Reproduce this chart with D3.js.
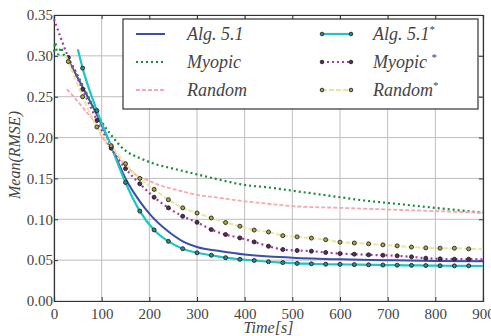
<!DOCTYPE html>
<html>
<head>
<meta charset="utf-8">
<script src="https://cdn.jsdelivr.net/npm/d3@7"></script>
<style>
  body { margin: 0; background: #fff; }
  svg text { fill: #444; }
</style>
</head>
<body>
<div id="chart"></div>
<script>
// values
var xTicks = [0, 100, 200, 300, 400, 500, 600, 700, 800, 900];
var yTicks = [0, 0.05, 0.10, 0.15, 0.20, 0.25, 0.30, 0.35];

var algT = [30, 60, 90, 120, 150, 180, 200, 240, 270, 300, 350, 400, 500, 600, 700, 800, 900];
var algV = [0.295, 0.262, 0.228, 0.190, 0.150, 0.122, 0.107, 0.085, 0.073, 0.066, 0.061, 0.057, 0.053, 0.051, 0.050, 0.049, 0.0485];

var myoT = [0, 3, 6, 10, 14, 20, 30, 60, 90, 120, 150, 180, 210, 250, 300, 350, 400, 450, 500, 550, 600, 650, 700, 750, 800, 850, 900];
var myoV = [0.305, 0.316, 0.305, 0.302, 0.310, 0.302, 0.296, 0.264, 0.229, 0.203, 0.184, 0.175, 0.168, 0.162, 0.155, 0.148, 0.142, 0.139, 0.135, 0.131, 0.127, 0.123, 0.120, 0.117, 0.114, 0.111, 0.108];

var rndT = [27, 40, 60, 90, 100, 125, 150, 170, 200, 220, 250, 270, 300, 350, 400, 450, 500, 600, 700, 800, 900];
var rndV = [0.259, 0.251, 0.237, 0.214, 0.202, 0.184, 0.166, 0.155, 0.147, 0.142, 0.137, 0.134, 0.130, 0.126, 0.122, 0.119, 0.116, 0.114, 0.112, 0.110, 0.108];

// starred runs, markers every 30 s
var algStarT = [50, 60, 90, 120, 150, 180, 210, 240, 270, 300, 330, 360, 390, 420, 450, 480, 510, 540, 570, 600, 630, 660, 690, 720, 750, 780, 810, 840, 870, 900];
var algStarV = [0.308, 0.285, 0.233, 0.189, 0.145, 0.110, 0.087, 0.073, 0.064, 0.059, 0.056, 0.053, 0.051, 0.0496, 0.048, 0.047, 0.046, 0.0455, 0.045, 0.0448, 0.0445, 0.0443, 0.044, 0.0438, 0.0436, 0.0434, 0.0432, 0.043, 0.043, 0.0428];

var myoStarT = [0, 30, 60, 90, 120, 150, 180, 210, 240, 270, 300, 330, 360, 390, 420, 450, 480, 510, 540, 570, 600, 630, 660, 690, 720, 750, 780, 810, 840, 870, 900];
var myoStarV = [0.345, 0.298, 0.259, 0.221, 0.187, 0.162, 0.1435, 0.127, 0.114, 0.1037, 0.0963, 0.0874, 0.0813, 0.0772, 0.0723, 0.067, 0.063, 0.0618, 0.061, 0.0594, 0.058, 0.0573, 0.0565, 0.056, 0.0553, 0.054, 0.0524, 0.0516, 0.0512, 0.0512, 0.051];

var rndStarT = [25, 30, 60, 90, 120, 150, 180, 210, 240, 270, 300, 330, 360, 390, 420, 450, 480, 510, 540, 570, 600, 630, 660, 690, 720, 750, 780, 810, 840, 870, 900];
var rndStarV = [0.300, 0.293, 0.250, 0.213, 0.190, 0.168, 0.150, 0.1366, 0.124, 0.114, 0.1077, 0.1016, 0.096, 0.0915, 0.0868, 0.0845, 0.080, 0.0785, 0.077, 0.075, 0.072, 0.071, 0.070, 0.0687, 0.0675, 0.066, 0.065, 0.0646, 0.0646, 0.0638, 0.0634];

var series = [
  {name: "Alg. 5.1", star: false, t: algT, v: algV, color: "#3a50a8", mark: null, width: 2, dash: null},
  {name: "Myopic", star: false, t: myoT, v: myoV, color: "#1b8a3e", mark: null, width: 2.2, dash: "2,3"},
  {name: "Random", star: false, t: rndT, v: rndV, color: "#f6a8b0", mark: null, width: 1.8, dash: "4,2"},
  {name: "Alg. 5.1", star: true, t: algStarT, v: algStarV, color: "#1fc4c4", mark: "#2a8c8c", width: 2.2, dash: null},
  {name: "Myopic ", star: true, t: myoStarT, v: myoStarV, color: "#a63aa6", mark: "#5a2a5a", width: 2.2, dash: "2,3"},
  {name: "Random", star: true, t: rndStarT, v: rndStarV, color: "#e6e6a6", mark: "#a8a840", width: 2, dash: "5,2"}
];

var serif = "'Liberation Serif', 'Times New Roman', 'DejaVu Serif', serif";

var margin = {top: 15, right: 8, bottom: 35, left: 54},
    width = 491 - margin.left - margin.right,
    height = 336 - margin.top - margin.bottom;

var svg = d3.select("#chart")
  .append("svg")
  .attr("width", 491)
  .attr("height", 336)
  .append("g")
  .attr("transform", "translate(" + margin.left + "," + margin.top + ")");

var x = d3.scaleLinear().domain([0, 900]).range([0, width]);
var y = d3.scaleLinear().domain([0, 0.35]).range([height, 0]);

// grid
svg.selectAll("xgrid").data(xTicks).enter().append("line")
  .attr("x1", d => x(d)).attr("x2", d => x(d))
  .attr("y1", 0).attr("y2", height)
  .attr("stroke", "#bdbdbd").attr("stroke-width", 1);
svg.selectAll("ygrid").data(yTicks).enter().append("line")
  .attr("x1", 0).attr("x2", width)
  .attr("y1", d => y(d)).attr("y2", d => y(d))
  .attr("stroke", "#bdbdbd").attr("stroke-width", 1);

// axes, ticks pointing inwards
svg.append("g")
  .attr("transform", "translate(0," + height + ")")
  .call(d3.axisBottom(x).tickValues(xTicks).tickSize(-4).tickPadding(7).tickFormat(d3.format("d")));
svg.append("g")
  .call(d3.axisLeft(y).tickValues(yTicks).tickSize(-4).tickPadding(1).tickFormat(d3.format(".2f")));
svg.append("g").call(d3.axisTop(x).tickValues(xTicks).tickSize(-4).tickFormat(""));
svg.append("g").attr("transform", "translate(" + width + ",0)")
  .call(d3.axisRight(y).tickValues(yTicks).tickSize(-4).tickFormat(""));
svg.selectAll(".domain").attr("stroke", "#333").attr("stroke-width", 1.2);
svg.selectAll(".tick line").attr("stroke", "#333");
svg.selectAll("g").attr("font-family", serif);
svg.selectAll(".tick text").attr("font-family", serif).style("font-family", serif)
  .style("font-size", "15px").attr("fill", "#555");

// lines
var line = d3.line()
  .x(d => x(d[0]))
  .y(d => y(d[1]))
  .curve(d3.curveMonotoneX);

series.forEach(function(s){
  var pts = s.t.map((t, i) => [t, s.v[i]]);
  svg.append("path")
    .datum(pts)
    .attr("fill", "none")
    .attr("stroke", s.color)
    .attr("stroke-width", s.width)
    .attr("stroke-dasharray", s.dash)
    .attr("d", line);
  if (s.star) {
    // markers on the 30 s grid, not on the first / last point
    svg.selectAll("m").data(pts.slice(1, pts.length - 1)).enter().append("circle")
      .attr("cx", d => x(d[0]))
      .attr("cy", d => y(d[1]))
      .attr("r", 2)
      .attr("fill", s.mark)
      .attr("stroke", "#222")
      .attr("stroke-width", 0.9);
  }
});

// legend
var lg = svg.append("g").attr("transform", "translate(69,4)");
lg.append("rect")
  .attr("width", 355).attr("height", 90)
  .attr("fill", "#fff").attr("stroke", "#333").attr("stroke-width", 1.2);

series.forEach(function(s, i){
  var col = s.star ? 1 : 0, row = i % 3;
  var gx = 13 + col * 186, gy = 15 + row * 28;
  lg.append("line")
    .attr("x1", gx).attr("x2", gx + 29)
    .attr("y1", gy).attr("y2", gy)
    .attr("stroke", s.color).attr("stroke-width", s.width)
    .attr("stroke-dasharray", s.dash);
  if (s.star) {
    [gx, gx + 29].forEach(function(px){
      lg.append("circle").attr("cx", px).attr("cy", gy).attr("r", 1.8)
        .attr("fill", s.mark).attr("stroke", "#222").attr("stroke-width", 0.9);
    });
  }
  var t = lg.append("text")
    .attr("x", gx + 51).attr("y", gy + 6)
    .style("font-family", serif)
    .style("font-size", "18px").style("font-style", "italic")
    .attr("fill", "#444")
    .text(s.name);
  if (s.star) {
    t.append("tspan").attr("dy", -7).style("font-size", "11px").style("font-style", "normal").text("*");
  }
});

// axis labels
svg.append("text")
  .attr("transform", "rotate(-90)")
  .attr("x", -height / 2 + 3)
  .attr("y", -34)
  .style("text-anchor", "middle")
  .style("font-family", serif)
  .style("font-size", "16px").style("font-style", "italic")
  .text("Mean(RMSE)");
svg.append("text")
  .attr("x", width / 2)
  .attr("y", height + 32)
  .style("text-anchor", "middle")
  .style("font-family", serif)
  .style("font-size", "16px").style("font-style", "italic")
  .text("Time[s]");
</script>
</body>
</html>
